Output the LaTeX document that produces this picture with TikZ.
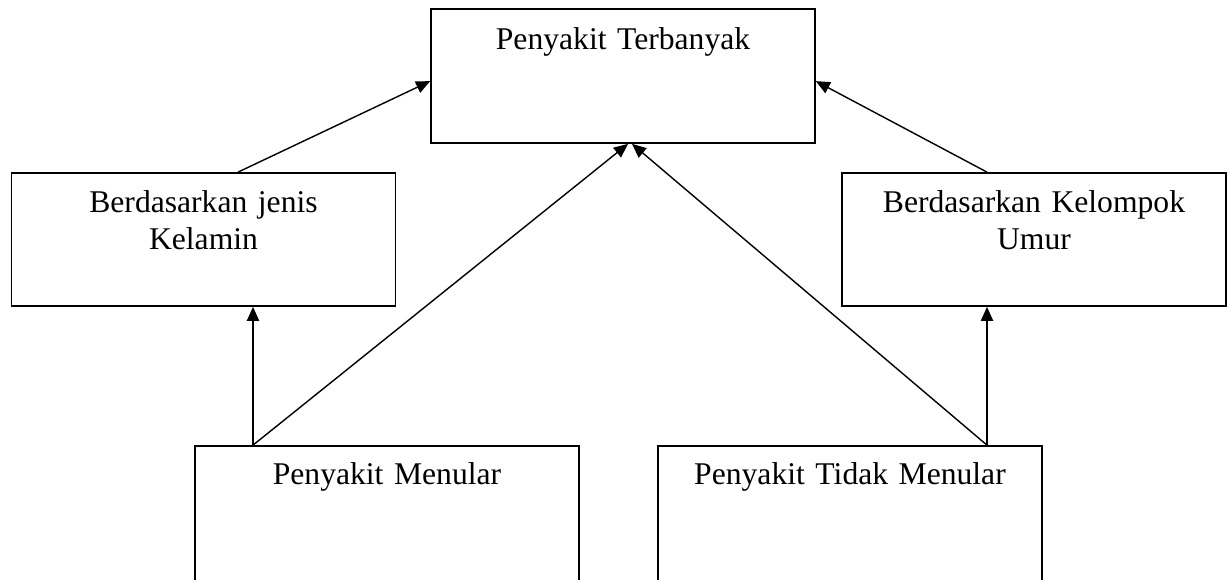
\documentclass[tikz,border=0pt]{standalone}
\usepackage{fontspec}
\setmainfont{Liberation Serif}
\usetikzlibrary{arrows.meta}
\usetikzlibrary{calc}

\tikzset{
  kotak/.style={draw=black, line width=1pt, minimum width=7.68cm, minimum height=2.66cm, inner sep=0pt},
  teks/.style={anchor=base, text width=7.4cm, align=center, font=\fontsize{18}{21}\selectfont},
  panah/.style={draw=black, line width=0.8pt, -{Triangle[length=8pt,width=7pt]}}
}

\begin{document}
\begin{tikzpicture}[x=0.02cm, y=-0.02cm]
            \useasboundingbox (0,0) rectangle (1229,579);
            \clip (0,0) rectangle (1229,579);

            % kotak
            \node[kotak, minimum height=2.68cm] (terbanyak) at (623,76) {};
            \node[kotak] (jenis) at (203.5,239.5) {};
            \node[kotak] (umur) at (1034,239.5) {};
            \node[kotak, minimum height=2.8cm] (menular) at (387,516) {};
            \node[kotak, minimum height=2.8cm] (tidak) at (850,516) {};

            % teks
            \node[teks] (t-terbanyak) at ($(terbanyak.north)+(0,41)$) {Penyakit Terbanyak};
            \node[teks] (t-jenis) at ($(jenis.north)+(0,40)$) {Berdasarkan jenis\\Kelamin};
            \node[teks] (t-umur) at ($(umur.north)+(0,40)$) {Berdasarkan Kelompok\\Umur};
            \node[teks] (t-menular) at ($(menular.north)+(0,39)$) {Penyakit Menular};
            \node[teks] (t-tidak) at ($(tidak.north)+(0,39)$) {Penyakit Tidak Menular};

            % titik pangkal panah
            \coordinate (pm) at ($(menular.north)+(-134,0)$);
            \coordinate (ptm) at ($(tidak.north)+(137,0)$);

            % panah
            \draw[panah] ($(jenis.north)+(34.5,0)$) -- ($(terbanyak.north west)+(0,73)$);
            \draw[panah] ($(umur.north)+(-47,0)$) -- ($(terbanyak.north east)+(0,73)$);
            \draw[panah] (pm) -- (pm |- jenis.south);
            \draw[panah] (ptm) -- (ptm |- umur.south);
            \draw[panah] (pm) -- ($(terbanyak.south)+(5,0)$);
            \draw[panah] (ptm) -- ($(terbanyak.south)+(9,0)$);
        \end{tikzpicture}
\end{document}
